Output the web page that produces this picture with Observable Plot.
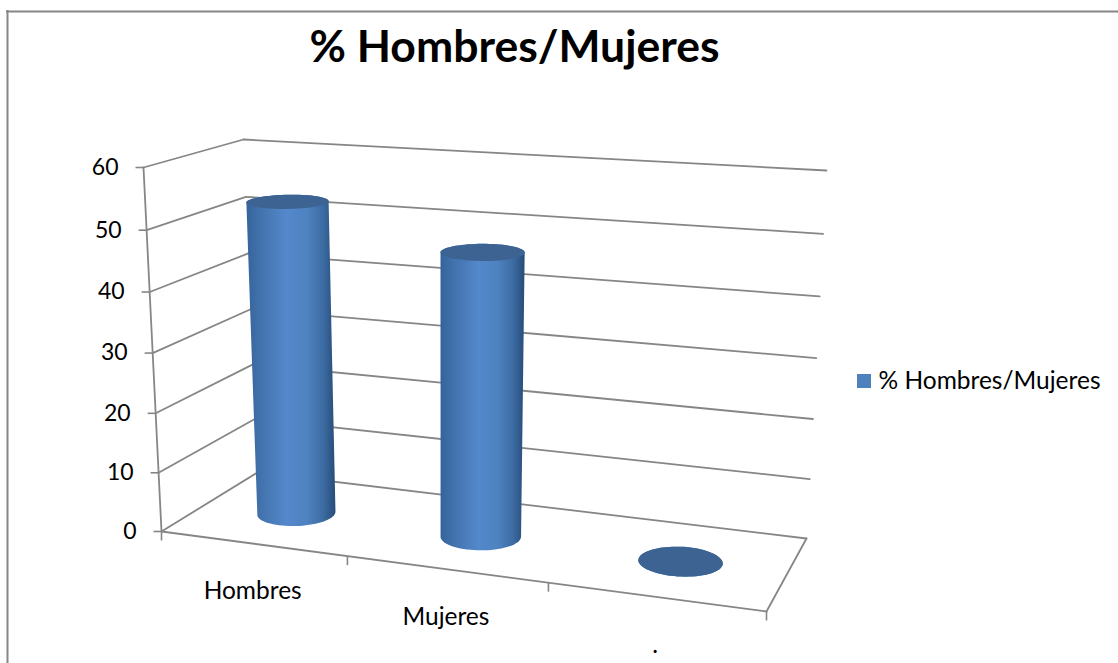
<!DOCTYPE html>
<html>
<head>
<meta charset="utf-8">
<style>
html,body{margin:0;padding:0;background:#fff;}
svg{display:block;}
</style>
<script src="https://cdn.jsdelivr.net/npm/d3@7"></script>
<script src="https://cdn.jsdelivr.net/npm/@observablehq/plot@0.6"></script>
</head>
<body>
<div id="chart"></div>
<script>
const chartTitle = "% Hombres/Mujeres";
const seriesName = "% Hombres/Mujeres";
const categories = ["Hombres", "Mujeres", "."];
const values = [53, 47, 0];
const valueTicks = [0, 10, 20, 30, 40, 50, 60];
const vMax = 60;
const W = 1118, H = 663;
const GREY = "#868686";
const FONT = "Lato, Carlito, Calibri, sans-serif";

// Perspective frame: where the eight corners of the 3-D chart box land.
const floorBox = {fl:[161,531], fr:[766,611], bl:[257,472], br:[806,538]};
const topBox   = {fl:[143,167], fr:[792,209], bl:[243,139], br:[826,170]};
const persp = (t, k) => t / (t + (1 - t) * k);
const mix = (a, b, t) => [a[0] + (b[0]-a[0])*t, a[1] + (b[1]-a[1])*t];
function quad(q, u, d) {
  return mix(mix(q.fl, q.fr, u), mix(q.bl, q.br, u), d);
}
// c: category position (0..n), d: depth (0 front..1 back), v: value
function project(c, d, v) {
  const u = persp(c / categories.length, 1.127);
  const s = persp(v / vMax, 1.04);
  return mix(quad(floorBox, u, d), quad(topBox, u, d), s);
}
const seg = (key, a, b) => [{key, p: a}, {key, p: b}];

// Structure lines
const n = categories.length;
const structure = [
  ...valueTicks.flatMap(v => seg("back"+v, project(0,1,v), project(n,1,v))),
  ...valueTicks.flatMap(v => seg("left"+v, project(0,0,v), project(0,1,v))),
  ...seg("axis", project(0,0,0), project(0,0,vMax)),
  ...seg("front", project(0,0,0), project(n,0,0)),
  ...seg("right", project(n,0,0), project(n,1,0))
];

// Cylinders
const radiusC = 0.197, radiusD = 0.2;
const angles = d3.range(0, 72).map(i => i / 72 * 2 * Math.PI);
function disc(i, v) {
  return angles.map(a => project(i + 0.5 + radiusC * Math.cos(a), 0.5 + radiusD * Math.sin(a), v));
}
const bodies = values.flatMap((v, i) =>
  d3.polygonHull([...disc(i, 0), ...disc(i, v)]).map(p => ({key: i, p})));
const caps = values.flatMap((v, i) => disc(i, v).map(p => ({key: i, p})));

const gradient = () => {
  const defs = d3.create("svg:defs");
  const g = defs.append("linearGradient").attr("id", "cyl")
    .attr("x1", 0).attr("x2", 1).attr("y1", 0).attr("y2", 0);
  [[0,"#35649c"],[0.18,"#4474ae"],[0.45,"#5388cc"],[0.68,"#4e82c0"],[0.86,"#3d6ca3"],[1,"#264c79"]]
    .forEach(([o,c]) => g.append("stop").attr("offset", o).attr("stop-color", c));
  return defs.node();
};

const chart = Plot.plot({
  width: W, height: H,
  margin: 0,
  style: {background: "#fff", overflow: "hidden"},
  x: {domain: [0, W], range: [0, W], axis: null},
  y: {domain: [0, H], range: [0, H], axis: null},
  marks: [
    gradient,
    // outer chart frame
    Plot.ruleX([7], {y1: 10, y2: H, stroke: GREY, strokeWidth: 2}),
    Plot.ruleY([11], {x1: 6, x2: W, stroke: GREY, strokeWidth: 2}),
    Plot.text([chartTitle], {x: () => 514, y: () => 47, text: d => d, fontFamily: FONT, fontWeight: 700, fontSize: 44.5, fill: "#000"}),
    // walls and floor
    Plot.line(structure, {x: d => d.p[0], y: d => d.p[1], z: "key", stroke: GREY, strokeWidth: 1.8}),
    // value ticks and labels
    Plot.link(valueTicks, {
      x1: v => project(0,0,v)[0] - 8, y1: v => project(0,0,v)[1],
      x2: v => project(0,0,v)[0], y2: v => project(0,0,v)[1],
      stroke: GREY, strokeWidth: 1.6
    }),
    Plot.text(valueTicks, {
      x: v => project(0,0,v)[0] - 25, y: v => project(0,0,v)[1],
      text: v => String(v), textAnchor: "end",
      fontFamily: FONT, fontSize: 23, fill: "#000"
    }),
    // category ticks and labels
    Plot.link(d3.range(0, n + 1), {
      x1: c => project(c,0,0)[0], y1: c => project(c,0,0)[1],
      x2: c => project(c,0,0)[0], y2: c => project(c,0,0)[1] + 9,
      stroke: GREY, strokeWidth: 1.6
    }),
    Plot.text(categories, {
      x: (d, i) => project(i + 0.5,0,0)[0], y: (d, i) => project(i + 0.5,0,0)[1] + 48,
      text: d => d, fontFamily: FONT, fontSize: 24.5, fill: "#000"
    }),
    // cylinders
    Plot.line(bodies, {x: d => d.p[0], y: d => d.p[1], z: "key", fill: "url(#cyl)", stroke: "none"}),
    Plot.line(caps, {x: d => d.p[0], y: d => d.p[1], z: "key", fill: "#3c6392", stroke: "none"}),
    // legend
    Plot.rect([seriesName], {x1: () => 857, x2: () => 871, y1: () => 374, y2: () => 388, fill: "#4f81bd"}),
    Plot.text([seriesName], {x: () => 878, y: () => 381, text: d => d, textAnchor: "start", fontFamily: FONT, fontSize: 24.5, fill: "#000"})
  ]
});
document.getElementById("chart").append(chart);
</script>
</body>
</html>
